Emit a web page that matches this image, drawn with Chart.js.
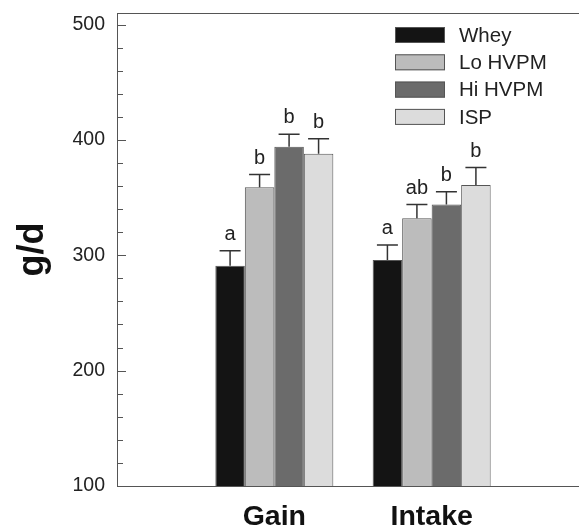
<!DOCTYPE html>
<html>
<head>
<meta charset="utf-8">
<script src="https://cdn.jsdelivr.net/npm/chart.js@4.4.0/dist/chart.umd.min.js"></script>
<style>
html, body { margin: 0; padding: 0; background: #fff; overflow: hidden; }
</style>
</head>
<body>
<canvas id="chart" width="600" height="531"></canvas>
<script>
// ---------------- data ----------------
const groups = ['', 'Gain', 'Intake', ''];   // blank ends keep the groups where the figure has them
const treatments = ['Whey', 'Lo HVPM', 'Hi HVPM', 'ISP'];
const fills = ['#141414', '#bcbcbc', '#6b6b6b', '#dcdcdc'];

const whey   = [null, 291, 296, null];
const loHvpm = [null, 359, 332, null];
const hiHvpm = [null, 394, 344, null];
const isp    = [null, 388, 361, null];

// SE, drawn upward only
const wheyErr   = [null, 13, 13, null];
const loHvpmErr = [null, 11, 12, null];
const hiHvpmErr = [null, 11, 11, null];
const ispErr    = [null, 13, 15, null];

const wheyLetters   = ['', 'a', 'a', ''];
const loHvpmLetters = ['', 'b', 'ab', ''];
const hiHvpmLetters = ['', 'b', 'b', ''];
const ispLetters    = ['', 'b', 'b', ''];

const yMin = 100, yMax = 510, yMinor = 20, yMajor = 100;

const FONT = "'Liberation Sans', Arial, Helvetica, sans-serif";

const series = [whey, loHvpm, hiHvpm, isp];
const errors = [wheyErr, loHvpmErr, hiHvpmErr, ispErr];
const letters = [wheyLetters, loHvpmLetters, hiHvpmLetters, ispLetters];

// ---------------- plugins ----------------

// top frame line + inward tick marks on the y axis
const framePlugin = {
  id: 'frame',
  afterDraw(chart) {
    const ctx = chart.ctx, a = chart.chartArea, y = chart.scales.y;
    ctx.save();
    ctx.strokeStyle = '#555';
    ctx.lineWidth = 1;
    ctx.beginPath();
    ctx.moveTo(a.left, a.top + 0.5);
    ctx.lineTo(a.right, a.top + 0.5);
    for (let v = yMin; v <= yMax; v += yMinor) {
      const py = Math.round(y.getPixelForValue(v)) + 0.5;
      const len = v % yMajor === 0 ? 9 : 6;
      ctx.moveTo(a.left, py);
      ctx.lineTo(a.left + len, py);
    }
    ctx.stroke();
    ctx.restore();
  }
};

// error whiskers and letters
const errorPlugin = {
  id: 'errors',
  afterDatasetsDraw(chart) {
    const ctx = chart.ctx, y = chart.scales.y;
    ctx.save();
    ctx.strokeStyle = '#333';
    ctx.lineWidth = 1.5;
    ctx.fillStyle = '#222';
    ctx.font = '20px ' + FONT;
    ctx.textAlign = 'center';
    ctx.textBaseline = 'alphabetic';
    chart.data.datasets.forEach((ds, di) => {
      const meta = chart.getDatasetMeta(di);
      meta.data.forEach((bar, i) => {
        const v = series[di][i];
        if (v == null) return;
        const top = y.getPixelForValue(v);
        const tip = y.getPixelForValue(v + errors[di][i]);
        ctx.beginPath();
        ctx.moveTo(bar.x, top);
        ctx.lineTo(bar.x, tip);
        ctx.moveTo(bar.x - 10.5, tip);
        ctx.lineTo(bar.x + 10.5, tip);
        ctx.stroke();
        ctx.fillText(letters[di][i], bar.x, tip - 11);
      });
    });
    ctx.restore();
  }
};

// legend inside the plot, upper right
const legendPlugin = {
  id: 'boxLegend',
  afterDraw(chart) {
    const ctx = chart.ctx;
    ctx.save();
    ctx.font = '20.5px ' + FONT;
    ctx.textBaseline = 'middle';
    ctx.textAlign = 'left';
    chart.data.datasets.forEach((ds, i) => {
      const cy = 35 + i * 27.3;
      ctx.fillStyle = ds.backgroundColor;
      ctx.fillRect(395, cy - 8, 50, 16);
      ctx.strokeStyle = '#555';
      ctx.lineWidth = 1;
      ctx.strokeRect(395.5, cy - 7.5, 49, 15);
      ctx.fillStyle = '#222';
      ctx.fillText(ds.label, 459, cy + 1);
    });
    ctx.restore();
  }
};

// ---------------- chart ----------------
const ctx = document.getElementById('chart').getContext('2d');
new Chart(ctx, {
  type: 'bar',
  data: {
    labels: groups,
    datasets: treatments.map((t, i) => ({
      label: t,
      data: series[i],
      backgroundColor: fills[i],
      borderColor: '#555',
      borderWidth: 1,
      categoryPercentage: 0.75,
      barPercentage: 1
    }))
  },
  options: {
    responsive: false,
    devicePixelRatio: 1,
    animation: false,
    layout: { padding: { top: 13, right: 11, left: 0, bottom: 0 } },
    plugins: { legend: { display: false }, tooltip: { enabled: false } },
    scales: {
      x: {
        type: 'category',
        offset: false,
        grid: { display: false, drawTicks: false },
        border: { display: true, color: '#555', width: 1 },
        ticks: {
          autoSkip: false, maxRotation: 0, padding: 14,
          color: '#111', font: { family: FONT, size: 28.5, weight: 'bold' }
        },
        afterFit(scale) { scale.height = 45; scale.paddingLeft = 0; scale.paddingRight = 0; }
      },
      y: {
        min: yMin, max: yMax,
        grid: { display: false, drawTicks: false },
        border: { display: true, color: '#555', width: 1 },
        afterBuildTicks(scale) {
          const t = [];
          for (let v = yMin; v <= yMax; v += yMinor) t.push({ value: v });
          scale.ticks = t;
        },
        ticks: {
          autoSkip: false, padding: 12,
          color: '#222', font: { family: FONT, size: 19.5 },
          callback: v => (v % yMajor === 0 ? v : '')
        },
        title: {
          display: true, text: 'g/d', color: '#111',
          font: { family: FONT, size: 36, weight: 'bold' },
          padding: { top: 11, bottom: 0 }
        },
        afterFit(scale) { scale.width = 117; scale.paddingTop = 0; scale.paddingBottom = 0; }
      }
    }
  },
  plugins: [framePlugin, errorPlugin, legendPlugin]
});
</script>
</body>
</html>
